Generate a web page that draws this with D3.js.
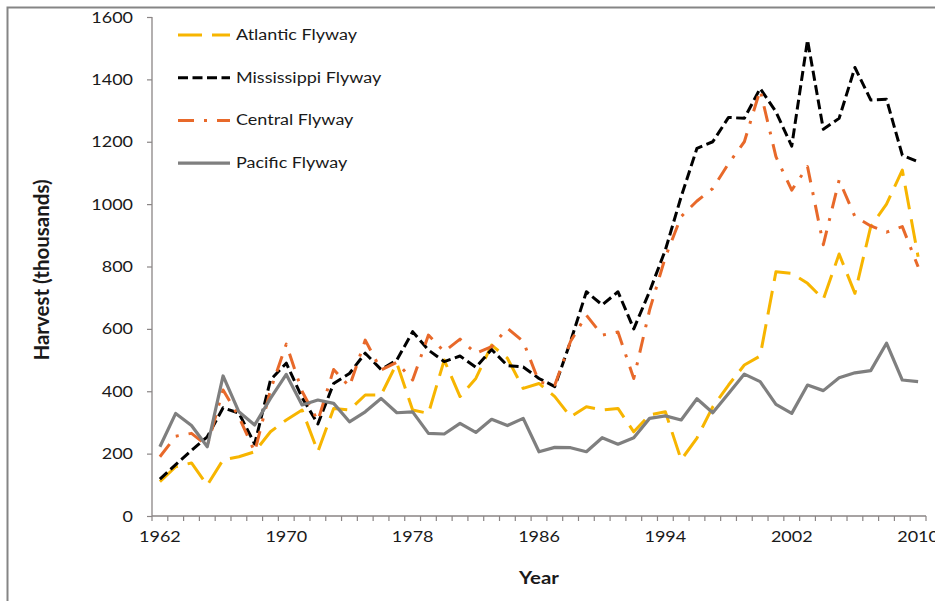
<!DOCTYPE html>
<html><head><meta charset="utf-8">
<script src="https://cdn.jsdelivr.net/npm/d3@7"></script>
<style>html,body{margin:0;padding:0;background:#fff;}svg{display:block;}</style>
</head><body><svg id="c" width="935" height="601"></svg>
<script>
const years = d3.range(1962, 2011);
const tickYears = [1962, 1970, 1978, 1986, 1994, 2002, 2010];
const yTicks = [0, 200, 400, 600, 800, 1000, 1200, 1400, 1600];
const seriesNames = ["Atlantic Flyway", "Mississippi Flyway", "Central Flyway", "Pacific Flyway"];
const atlantic = [110,158,170,99,180,190,206,270,308,340,206,345,340,388,388,490,340,329,500,383,441,548,506,409,425,383,318,350,340,345,270,324,334,180,250,350,420,484,513,783,778,746,695,840,714,928,1000,1109,831];
const mississippi = [118,165,210,254,347,330,231,436,490,380,295,425,457,522,470,500,591,532,495,513,477,534,482,478,441,415,560,719,677,719,600,720,853,1024,1179,1200,1278,1275,1371,1296,1186,1526,1240,1275,1438,1334,1336,1157,1136];
const central = [190,256,265,225,404,318,206,404,551,400,305,470,415,564,468,493,436,580,527,567,522,543,602,560,430,420,560,644,580,590,441,660,830,960,1010,1050,1130,1200,1366,1152,1045,1120,870,1077,960,930,910,928,799];
const pacific = [222,329,290,222,449,334,292,377,454,356,372,361,302,334,377,331,334,265,263,297,268,310,290,313,206,220,219,206,251,230,251,313,321,308,376,331,393,455,431,358,329,420,402,443,459,466,554,436,431];

const styles = [
  {color:"#F7B500", dash:"24,10", w:3},
  {color:"#000000", dash:"10,4.5", w:3},
  {color:"#E8692A", dash:"16,10,3,10", w:3},
  {color:"#7F7F7F", dash:null, w:3.2}
];
const data = [atlantic, mississippi, central, pacific];

const svg = d3.select("#c");
const L = 152, R = 926, T = 17, B = 516;
const band = d3.scaleBand().domain(years).range([L, R]);
const x = d3.scalePoint().domain(years).range([L, R]).padding(0.5);
const y = d3.scaleLinear().domain([0, 1600]).range([B, T]);
const axisColor = "#8a8585";
const font = "Lato, 'Open Sans', sans-serif";
const SX = 1.2;

// frame
svg.append("path").attr("d", "M7.5,601 L7.5,7.5 L935,7.5").attr("fill","none").attr("stroke","#858585").attr("stroke-width",2);

function stext(px, py, str, anchor, size, weight) {
  const g = svg.append("g").attr("transform", `translate(${px},${py}) scale(${SX},1)`);
  g.append("text").attr("text-anchor", anchor).attr("font-family", font)
    .attr("font-size", size).attr("font-weight", weight || "normal").attr("fill", "#1a1a1a").text(str);
  return g;
}

// y axis
const yAxis = svg.append("g").attr("transform", `translate(${L},0)`)
  .call(d3.axisLeft(y).tickValues(yTicks).tickSize(5).tickFormat(""));
yAxis.select(".domain").attr("stroke", axisColor).attr("stroke-width", 1.3).attr("d", `M0,${T}V${B}`);
yAxis.selectAll(".tick line").attr("stroke", axisColor).attr("stroke-width", 1.2);
yTicks.forEach(v => stext(L - 19, y(v) + 5.5, String(v), "end", 15));

// x axis
const xAxis = svg.append("g").attr("transform", `translate(0,${B})`);
xAxis.append("line").attr("x1", L).attr("x2", R).attr("y1", 0).attr("y2", 0).attr("stroke", axisColor).attr("stroke-width", 1.3);
const bounds = years.map(d => band(d)).concat([band(years[years.length-1]) + band.bandwidth()]);
xAxis.selectAll("line.t").data(bounds).join("line").attr("class","t")
  .attr("x1", d => d).attr("x2", d => d).attr("y1", 0).attr("y2", 5)
  .attr("stroke", axisColor).attr("stroke-width", 1.2);
tickYears.forEach(t => stext(x(t), 542, String(t), "middle", 15));

// axis titles
stext((L + R) / 2, 584, "Year", "middle", 17, "bold");
svg.append("text").attr("transform", "translate(49,270) rotate(-90)").attr("text-anchor","middle")
  .attr("font-family", font).attr("font-size", 20.5).attr("font-weight","bold").attr("fill","#1a1a1a")
  .text("Harvest (thousands)");

// lines
const line = d3.line().x((d, i) => x(years[i])).y(d => y(d));
data.forEach((arr, k) => {
  const s = styles[k];
  svg.append("path").datum(arr).attr("d", line).attr("fill","none")
    .attr("stroke", s.color).attr("stroke-width", s.w)
    .attr("stroke-dasharray", s.dash).attr("stroke-linejoin","round");
});

// legend
seriesNames.forEach((name, k) => {
  const s = styles[k];
  const ly = 35 + k * 42.7;
  svg.append("line").attr("x1", 178).attr("x2", 230).attr("y1", ly).attr("y2", ly)
    .attr("stroke", s.color).attr("stroke-width", s.w).attr("stroke-dasharray", s.dash);
  stext(236, ly + 5, name, "start", 15);
});
</script></body></html>
